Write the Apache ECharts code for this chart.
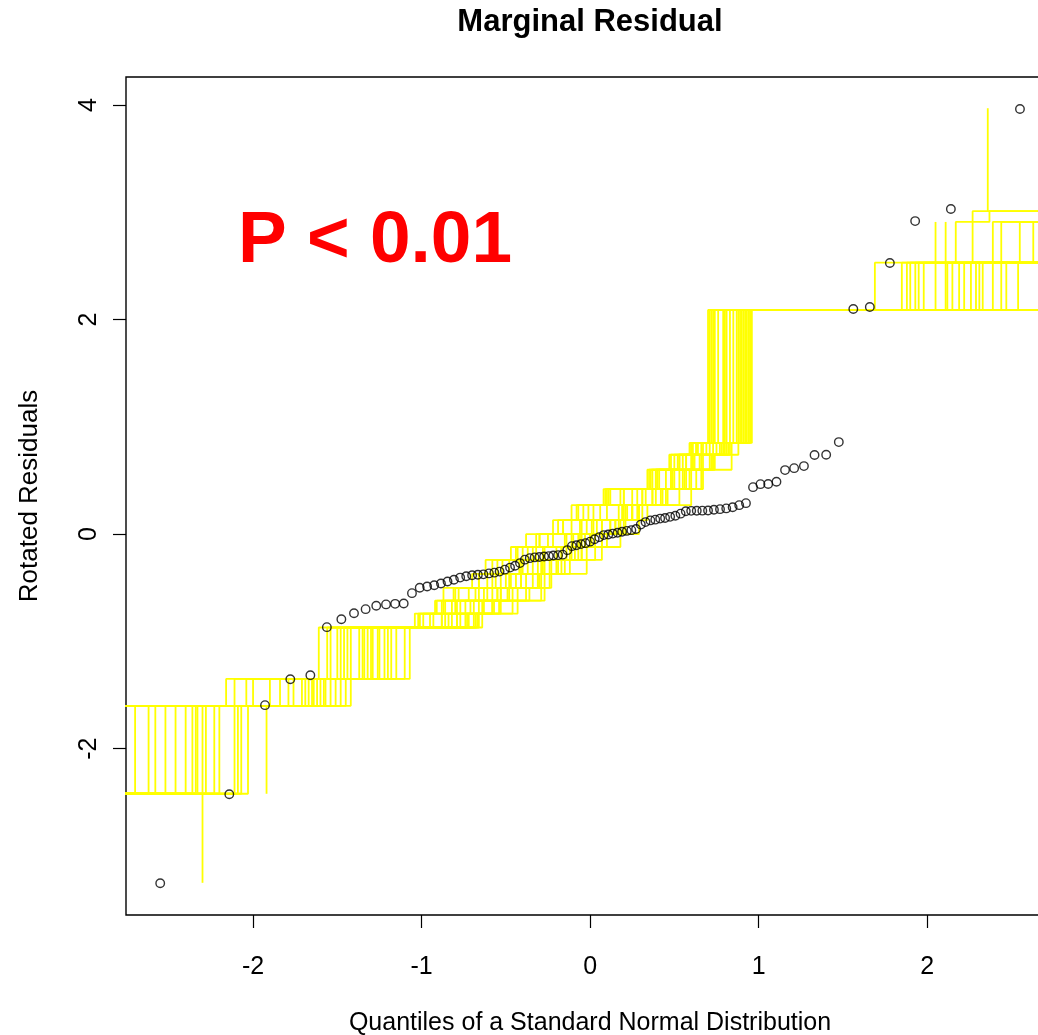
<!DOCTYPE html>
<html><head><meta charset="utf-8">
<script src="https://cdn.jsdelivr.net/npm/echarts@6/dist/echarts.min.js"></script>
<style>html,body{margin:0;padding:0;background:#fff}#c{width:1038px;height:1035px}</style>
</head><body><div id="c"></div>
<script>
// Theoretical normal quantiles (x) of the 93 observations
const quantiles = [
 -2.551,-2.141,-1.929,-1.779,-1.660,-1.562,-1.476,-1.401,-1.332,-1.269,
 -1.211,-1.157,-1.106,-1.057,-1.011,-0.967,-0.925,-0.885,-0.846,-0.808,
 -0.771,-0.735,-0.700,-0.666,-0.633,-0.600,-0.568,-0.537,-0.506,-0.475,
 -0.445,-0.416,-0.387,-0.358,-0.329,-0.301,-0.273,-0.245,-0.218,-0.190,
 -0.163,-0.135,-0.108,-0.081,-0.054,-0.027,0,0.027,0.054,0.081,
 0.108,0.135,0.163,0.190,0.218,0.245,0.273,0.301,0.329,0.358,
 0.387,0.416,0.445,0.475,0.506,0.537,0.568,0.600,0.633,0.666,
 0.700,0.735,0.771,0.808,0.846,0.885,0.925,0.967,1.011,1.057,
 1.106,1.157,1.211,1.269,1.332,1.401,1.476,1.562,1.660,1.779,
 1.929,2.141,2.551];
// Sorted rotated residuals (y)
const residuals = [
 -3.254,-2.424,-1.594,-1.352,-1.315,-0.867,-0.793,-0.737,-0.699,-0.667,
 -0.655,-0.650,-0.646,-0.550,-0.500,-0.488,-0.476,-0.460,-0.442,-0.425,
 -0.405,-0.392,-0.383,-0.379,-0.375,-0.366,-0.359,-0.349,-0.331,-0.312,
 -0.294,-0.270,-0.238,-0.224,-0.217,-0.213,-0.209,-0.205,-0.199,-0.196,
 -0.191,-0.149,-0.112,-0.103,-0.093,-0.084,-0.070,-0.047,-0.028,-0.009,
 -0.003,0.005,0.013,0.022,0.030,0.037,0.048,0.089,0.112,0.128,
 0.135,0.145,0.151,0.161,0.172,0.191,0.214,0.217,0.218,0.219,
 0.221,0.227,0.233,0.240,0.250,0.270,0.289,0.438,0.466,0.467,
 0.488,0.597,0.615,0.634,0.737,0.740,0.858,2.098,2.117,2.527,
 2.918,3.030,3.963];
// Simulated envelope: shared step levels and, per simulation, the x where each level is reached (null = skipped)
const envelopeLevels = [-2.42,-1.60,-1.35,-0.87,-0.74,-0.62,-0.50,-0.37,-0.24,-0.12,0.00,0.13,0.27,0.42,0.60,0.74,0.85,2.09,2.53,2.91,3.01];
const envelopeSteps = [
 [-3,-2.70,-2.16,-1.61,-1.04,null,-0.87,-0.70,-0.62,-0.47,-0.38,null,-0.11,0.10,0.34,0.47,0.59,0.70,2.19,null,null],
 [-3,-2.62,-2.11,-1.54,-0.95,-0.88,null,-0.61,-0.52,-0.37,-0.25,-0.16,-0.01,null,0.37,0.50,0.63,0.74,1.69,2.17,2.37],
 [-3,-2.52,-2.04,-1.50,-1.01,-0.92,-0.81,null,-0.58,-0.44,-0.32,-0.22,-0.08,0.09,null,0.48,0.60,0.71,null,null,null],
 [-3,-2.40,-1.84,-1.48,null,-0.82,-0.68,-0.56,-0.42,-0.32,null,-0.06,0.06,0.18,0.40,0.53,0.64,0.79,2.31,null,null],
 [-3,-2.36,-1.79,-1.44,-0.99,-0.91,-0.78,-0.66,null,-0.40,-0.30,-0.16,-0.04,0.08,0.36,null,0.61,0.73,1.93,2.44,null],
 [-3,-2.34,-1.76,-1.42,-0.84,null,-0.58,-0.44,-0.34,-0.20,-0.10,0.04,null,0.28,0.45,0.57,0.71,0.85,1.85,null,null],
 [-3,-2.33,-1.71,-1.37,-0.93,-0.86,-0.72,null,-0.48,-0.34,-0.22,null,0.02,0.12,0.39,0.52,0.63,0.76,2.44,null,null],
 [-3,-2.28,-1.67,-1.34,-0.74,-0.66,null,-0.38,-0.24,-0.14,0.00,0.12,0.22,null,0.53,0.65,0.77,0.91,1.90,2.39,null],
 [-3,-2.23,-1.65,-1.32,-0.88,-0.77,-0.66,-0.50,null,-0.28,-0.14,-0.02,0.10,0.20,null,0.55,0.67,0.81,2.29,null,null],
 [-3,-2.11,-1.64,-1.30,-0.69,null,-0.46,-0.30,-0.20,null,0.03,0.15,0.25,0.42,0.56,0.72,0.81,0.95,null,null,null],
 [-3,-2.09,-1.62,-1.29,-0.79,-0.71,-0.55,null,-0.31,-0.17,-0.07,0.07,0.17,0.31,0.48,null,0.73,0.87,1.88,null,2.27],
 [-3,-2.07,-1.60,-1.26,-0.66,-0.58,null,-0.29,-0.19,-0.05,null,0.18,0.29,0.46,0.59,0.73,0.82,0.96,2.54,null,null],
 [-3,-2.03,-1.57,-1.25,-0.86,-0.74,-0.63,-0.47,-0.37,null,-0.11,0.01,null,0.25,0.41,0.57,0.69,0.83,1.98,2.55,null],
 [null,-3,-1.54,-1.20,-0.64,-0.54,-0.36,-0.24,null,-0.02,0.10,0.20,0.34,0.45,0.63,null,0.84,0.95,2.22,null,null],
 [null,-3,-1.51,-1.18,-0.77,null,-0.53,-0.41,-0.27,-0.17,-0.03,null,0.21,0.33,0.50,0.62,0.75,0.89,2.15,2.63,null],
 [null,-3,-1.48,-1.15,-0.72,-0.64,-0.49,null,-0.23,-0.09,0.01,0.15,0.25,0.39,null,0.67,0.79,0.92,2.33,null,null],
 [null,-3,-1.42,-1.10,-0.67,-0.57,null,-0.27,-0.15,null,0.07,0.17,0.31,null,0.60,0.74,0.83,0.94,null,null,null],
 [null,-3,-1.45,-1.07,-0.68,null,-0.43,-0.31,-0.17,-0.07,0.07,null,0.29,0.43,0.57,0.71,0.80,0.93,2.39,null,null],
 [-3,-2.46,-1.90,-1.46,-0.88,-0.79,null,-0.53,-0.41,-0.27,-0.15,-0.05,null,0.20,0.39,0.53,0.66,0.80,2.12,null,null],
 [null,-3,-1.58,-1.22,-0.73,-0.63,-0.48,-0.34,null,-0.12,0.00,0.12,0.25,0.37,null,0.66,0.78,0.90,2.47,null,null],
 [-3,-2.58,-2.00,-1.56,-1.02,null,-0.80,-0.66,-0.55,-0.43,-0.30,-0.19,-0.07,0.11,0.35,null,0.60,0.72,1.95,null,null],
 [-3,-2.20,-1.69,-1.35,-0.79,-0.69,-0.55,-0.41,-0.29,null,-0.05,0.07,0.19,0.31,0.49,0.61,null,0.88,2.26,null,null]
];
// Isolated excursions of single simulations: [x, fromLevel, toLevel]
const envelopeSpikes = [[-2.30,-1.60,-3.25],[-1.92,-1.60,-2.42],[2.05,2.09,2.91],[2.11,2.09,2.91],[2.36,3.01,3.97]];
const xTicks = [-2,-1,0,1,2];
const yTicks = [-2,0,2,4];
const titleText = 'Marginal Residual';
const xName = 'Quantiles of a Standard Normal Distribution';
const yName = 'Rotated Residuals';
const pText = 'P < 0.01';

const FONT = '"Liberation Sans", Arial, Helvetica, sans-serif';
const YELLOW = '#ffff00';
const X_MIN = -2.754, X_MAX = 2.753, Y_MIN = -3.550, Y_MAX = 4.261;

const chart = echarts.init(document.getElementById('c'), null, {renderer: 'canvas'});

const series = [];
envelopeSteps.forEach((row) => {
  const pts = [];
  let last = null;
  row.forEach((x, i) => { if (x !== null) { pts.push([x, envelopeLevels[i]]); last = envelopeLevels[i]; } });
  pts.push([3.5, last]);
  series.push({type: 'line', data: pts, step: 'end', symbol: 'none', showSymbol: false,
    lineStyle: {color: YELLOW, width: 1.8}, silent: true, z: 2, clip: true});
});
envelopeSpikes.forEach(s => {
  series.push({type: 'line', data: [[s[0], s[1]], [s[0], s[2]]], symbol: 'none', showSymbol: false,
    lineStyle: {color: YELLOW, width: 1.8}, silent: true, z: 2, clip: true});
});
series.push({type: 'scatter', data: quantiles.map((q, i) => [q, residuals[i]]), symbol: 'circle', symbolSize: 8.5,
  itemStyle: {color: 'rgba(0,0,0,0)', borderColor: '#000', borderWidth: 1.4}, z: 5, silent: true});

chart.setOption({
  animation: false,
  backgroundColor: '#fff',
  grid: {left: 126, top: 77, right: -16, bottom: 120, outerBoundsMode: 'none', containLabel: false,
    show: true, borderColor: '#000', borderWidth: 1.4, backgroundColor: 'transparent'},
  xAxis: {type: 'value', min: X_MIN, max: X_MAX, splitLine: {show: false},
    axisLine: {show: false, onZero: false},
    axisTick: {show: true, length: 13, customValues: xTicks, lineStyle: {color: '#000', width: 1.2}},
    axisLabel: {customValues: xTicks, margin: 40, fontSize: 25, color: '#000', fontFamily: FONT},
    name: xName, nameLocation: 'middle', nameGap: 96, nameTextStyle: {fontSize: 25, color: '#000', fontFamily: FONT}},
  yAxis: {type: 'value', min: Y_MIN, max: Y_MAX, splitLine: {show: false},
    axisLine: {show: false, onZero: false},
    axisTick: {show: true, length: 13, customValues: yTicks, lineStyle: {color: '#000', width: 1.2}},
    axisLabel: {customValues: yTicks, rotate: 90, margin: 24, fontSize: 25, color: '#000', fontFamily: FONT},
    name: yName, nameLocation: 'middle', nameGap: 83, nameTextStyle: {fontSize: 26, color: '#000', fontFamily: FONT}},
  graphic: [
    {type: 'text', x: 590, y: 22, style: {text: titleText, fill: '#000', font: 'bold 31px ' + FONT, align: 'center', verticalAlign: 'middle'}},
    {type: 'text', x: 375, y: 242, z: 10, style: {text: pText, fill: '#ff0000', font: 'bold 73px ' + FONT, align: 'center', verticalAlign: 'middle'}}
  ],
  series: series
});
</script>
</body></html>
